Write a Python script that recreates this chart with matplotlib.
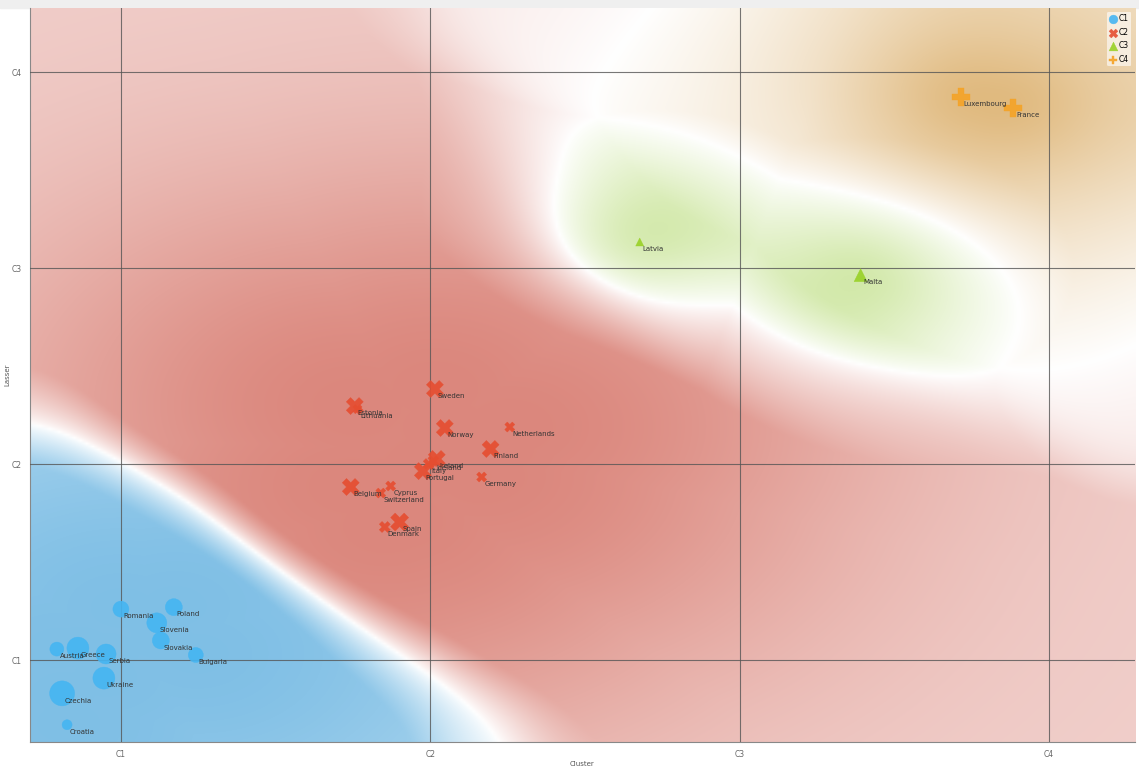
import numpy as np
import matplotlib.pyplot as plt

# category positions: C1=0, C2=1, C3=2, C4=3
countries = ["Romania", "Poland", "Slovenia", "Slovakia", "Bulgaria", "Austria", "Greece",
             "Serbia", "Ukraine", "Czechia", "Croatia",
             "Sweden", "Estonia", "Lithuania", "Norway", "Netherlands", "Finland", "Iceland",
             "Ireland", "Italy", "Portugal", "Germany", "Belgium", "Cyprus", "Switzerland",
             "Spain", "Denmark",
             "Latvia", "Malta",
             "Luxembourg", "France"]
cluster = ["C1"] * 11 + ["C2"] * 16 + ["C3"] * 2 + ["C4"] * 2
x_vals = [0.00, 0.171, 0.116, 0.129, 0.242, -0.207, -0.139, -0.048, -0.055, -0.190, -0.174,
          1.015, 0.756, 0.765, 1.047, 1.257, 1.195, 1.010,
          1.021, 0.995, 0.976, 1.166, 0.743, 0.872, 0.840,
          0.901, 0.853,
          1.677, 2.391,
          2.714, 2.885]
y_vals = [0.26, 0.27, 0.19, 0.10, 0.026, 0.056, 0.061, 0.031, -0.092, -0.17, -0.33,
          1.383, 1.296, 1.280, 1.184, 1.189, 1.077, 1.015,
          1.026, 1.000, 0.964, 0.934, 0.883, 0.888, 0.852,
          0.704, 0.679,
          2.133, 1.964,
          2.872, 2.816]
weight = [16, 17, 20, 17, 15, 14, 22, 20, 22, 25, 10,
          17, 17, 9, 17, 10, 17, 11,
          17, 11, 17, 10, 17, 10, 10,
          18, 11,
          8, 13,
          18, 18]
ticks = ["C1", "C2", "C3", "C4"]

colors = {"C1": (0.27, 0.71, 0.95), "C2": (0.90, 0.30, 0.19),
          "C3": (0.60, 0.82, 0.15), "C4": (0.96, 0.64, 0.15)}
markers = {"C1": "o", "C2": "X", "C3": "^", "C4": "P"}
region = {"C1": (0.50, 0.75, 0.90), "C2": (0.86, 0.53, 0.49),
          "C3": (0.78, 0.89, 0.58), "C4": (0.88, 0.73, 0.50)}

xlim = (-0.294, 3.278)
ylim = (-0.418, 3.327)

x = np.array(x_vals)
y = np.array(y_vals)
cl = np.array(cluster)
classes = ticks


def blur(a, sigma):
    r = int(3 * sigma)
    kern = np.exp(-np.arange(-r, r + 1) ** 2 / (2 * sigma ** 2))
    kern /= kern.sum()
    ones = np.ones_like(a)

    def conv(arr):
        arr = np.apply_along_axis(lambda v: np.convolve(v, kern, mode="same"), 0, arr)
        return np.apply_along_axis(lambda v: np.convolve(v, kern, mode="same"), 1, arr)
    return conv(a) / conv(ones)


# colour regions: distance-weighted knn, smoothed
gx = np.linspace(xlim[0], xlim[1], 360)
gy = np.linspace(ylim[0], ylim[1], 250)
GX, GY = np.meshgrid(gx, gy)
d = np.sqrt((GX[..., None] - x) ** 2 + (GY[..., None] - y) ** 2)
k = 5
idx = np.argsort(d, axis=-1)[..., :k]
dk = np.take_along_axis(d, idx, axis=-1)
w = 1.0 / (dk + 0.05)
probs = np.stack([blur((w * (cl[idx] == c)).sum(-1) / w.sum(-1), 9) for c in classes], -1)
near = np.stack([d[..., cl == c].min(-1) for c in classes], -1)

# C3 only holds ground close to its own points, the rest goes to C2
g = np.exp(-(near[..., 2] / 1.0) ** 2)
probs[..., 1] += probs[..., 2] * (1 - g)
probs[..., 2] *= g

best = probs.argmax(-1)
srt = np.sort(probs, axis=-1)
margin = srt[..., -1] - srt[..., -2]
dmin = np.take_along_axis(near, best[..., None], -1)[..., 0]
alpha = np.clip(margin / 0.7, 0, 1) ** 0.8 * (0.4 + 0.6 * np.exp(-dmin ** 2 / (2 * 0.9 ** 2)))
img = np.ones(GX.shape + (3,))
for i, c in enumerate(classes):
    m = best == i
    for ch in range(3):
        img[..., ch][m] = 1 - alpha[m] * (1 - region[c][ch])

fig = plt.figure(figsize=(11.39, 7.67), dpi=100)
fig.patch.set_facecolor("white")
fig.add_artist(plt.Rectangle((0, 0.9896), 1, 0.0104, transform=fig.transFigure,
                             color="#efefef", zorder=0))
ax = fig.add_axes([0.0263, 0.0326, 0.9702, 0.957])
ax.imshow(img, extent=(xlim[0], xlim[1], ylim[0], ylim[1]), origin="lower",
          aspect="auto", interpolation="bilinear", zorder=0)

for c in classes:
    m = cl == c
    s = (np.array(weight)[m] * 0.72) ** 2
    ax.scatter(x[m], y[m], s=s, marker=markers[c], color=colors[c], alpha=0.9,
               linewidths=0.3, edgecolors=colors[c], zorder=3, label=c)

for name, xi, yi in zip(countries, x_vals, y_vals):
    ax.annotate(name, (xi, yi), xytext=(2, -3), textcoords="offset points",
                fontsize=5, color="#333333", ha="left", va="top", zorder=4)

ax.set_xlim(xlim)
ax.set_ylim(ylim)
ax.set_xticks(range(4))
ax.set_xticklabels(ticks)
ax.set_yticks(range(4))
ax.set_yticklabels(ticks)
ax.tick_params(labelsize=5.5, colors="#666666", length=0, pad=6)
ax.grid(True, color="#555555", linewidth=0.8, alpha=0.8)
ax.set_axisbelow(False)
for sp in ["top", "right"]:
    ax.spines[sp].set_visible(False)
ax.spines["left"].set_color("#888888")
ax.spines["bottom"].set_color("#888888")
ax.set_xlabel("Cluster", fontsize=5, color="#555555", labelpad=1)
ax.set_ylabel("Lasser", fontsize=5, color="#555555", labelpad=1)

leg = ax.legend(loc="upper right", fontsize=5.5, frameon=True, framealpha=0.6,
                edgecolor="none", handletextpad=0.2,
                borderpad=0.3, labelspacing=0.6, handlelength=1)
for h in leg.legend_handles:
    h.set_sizes([40])
leg.set_zorder(5)

fig.savefig("out.png", dpi=100)
